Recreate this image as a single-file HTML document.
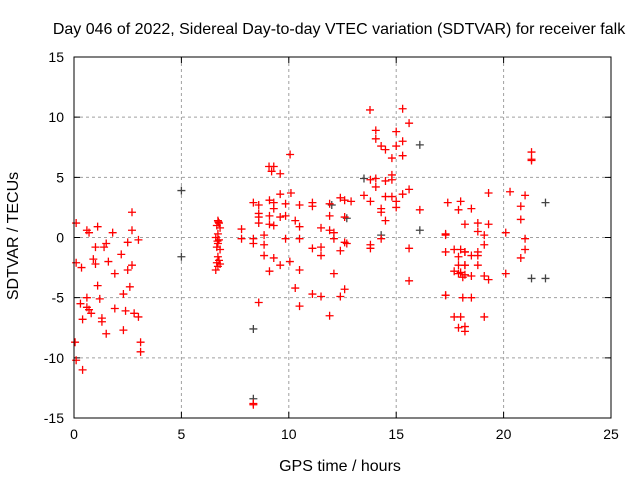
<!DOCTYPE html>
<html><head><meta charset="utf-8"><style>
body{margin:0;background:#fff}
svg text{font-family:"Liberation Sans",sans-serif;font-size:14px;fill:#000}
</style></head><body>
<svg id="chart" width="640" height="480" xmlns="http://www.w3.org/2000/svg">
<rect width="640" height="480" fill="#fff"/>
<text x="339" y="34" text-anchor="middle" style="font-size:16px">Day 046 of 2022, Sidereal Day-to-day VTEC variation (SDTVAR) for receiver falk</text>
<text x="340" y="471" text-anchor="middle" style="font-size:16px">GPS time / hours</text>
<text x="18" y="236" text-anchor="middle" style="font-size:16px" transform="rotate(-90 18 236)">SDTVAR / TECUs</text>
<g id="grid"></g><g id="ticks"></g><g id="marks"></g>
<rect x="74" y="57" width="537" height="361" fill="none" stroke="#000" stroke-width="1"/>
</svg>
<script>
const xTicks=[0,5,10,15,20,25];
const yTicks=[-15,-10,-5,0,5,10,15];
const redX=[0.1,0.1,0.05,0.1,0.4,0.35,0.3,0.4,0.6,0.7,0.6,0.6,0.7,0.8,0.9,1.0,1.1,1.0,1.1,1.2,1.3,1.3,1.4,1.5,1.6,1.5,1.8,1.9,1.9,2.2,2.3,2.3,2.5,2.5,2.4,2.6,2.7,2.7,2.7,2.8,3.0,3.0,3.1,3.1,
6.7,6.75,6.65,6.8,6.7,6.6,6.75,6.7,6.65,6.8,6.7,6.75,6.65,6.7,6.6,6.8,6.72,6.68,
7.8,7.8,10.06,9.08,9.3,9.2,9.6,8.35,8.6,8.6,8.6,9.1,9.3,9.3,9.6,9.85,10.1,9.85,10.5,11.1,11.1,11.9,11.9,12.4,12.6,12.6,9.1,9.6,10.3,10.5,11.5,11.9,12.1,12.1,12.6,12.4,8.6,9.1,9.3,8.85,8.35,8.35,8.85,9.85,10.5,11.1,11.5,11.5,8.85,9.3,9.6,10.05,9.1,10.5,12.1,10.3,11.1,11.5,12.4,12.6,8.6,10.5,11.9,8.35,8.35,12.7,12.9,
13.78,15.3,15.6,14.05,14.05,15.0,15.3,14.3,14.5,15.0,14.8,15.3,13.8,14.05,14.05,14.5,14.8,14.8,15.3,15.6,13.5,13.8,14.5,14.8,15.0,15.0,14.3,14.3,16.1,14.5,14.3,13.8,13.8,15.6,15.6,
18.0,18.5,18.8,18.8,17.3,17.3,18.0,18.2,18.5,18.8,18.8,18.2,18.8,18.0,18.2,18.5,17.3,18.5,18.0,18.2,18.2,
21.3,21.3,21.3,20.3,21.0,20.8,20.8,19.3,17.4,17.9,18.2,19.3,17.3,19.1,20.1,21.0,19.1,21.0,20.8,17.7,17.9,18.2,17.9,18.2,17.7,17.9,18.1,19.1,19.3,20.1,17.3,18.1,17.7,17.9,19.1];
const redY=[1.2,-2.1,-8.7,-10.2,-11.0,-2.5,-5.5,-6.8,0.6,0.4,-5.0,-5.8,-6.0,-6.3,-1.8,-0.8,0.9,-2.2,-4.0,-5.1,-6.7,-7.0,-0.8,-0.5,-2.0,-8.0,0.4,-3.0,-5.9,-1.4,-4.7,-7.7,-0.4,-2.7,-6.1,-4.1,2.1,0.6,-2.3,-6.3,-0.2,-6.6,-8.7,-9.5,
1.4,1.2,1.0,0.8,0.3,0,-0.2,-0.5,-0.8,-1.0,-1.6,-1.9,-2.1,-2.4,-2.7,-2.2,1.3,-0.3,
0.7,-0.1,6.9,5.9,5.9,5.5,5.3,2.9,2.7,2.0,1.7,3.1,2.9,2.4,3.6,2.8,3.7,1.8,2.7,2.9,2.6,2.8,1.8,3.3,3.1,1.7,1.8,1.7,1.4,0.9,0.8,0.6,0.4,-0.1,-0.4,-1.1,1.2,1.1,1.0,0.2,-0.1,-0.5,-0.6,-0.1,-0.1,-0.9,-0.8,-1.5,-1.5,-1.7,-2.3,-2.0,-2.8,-2.7,-3.0,-4.2,-4.7,-4.9,-4.9,-4.3,-5.4,-5.7,-6.5,-13.8,-13.9,-0.5,3.0,
10.6,10.7,9.5,8.9,8.2,8.8,8.0,7.6,7.3,7.6,6.6,6.8,4.8,4.9,4.2,4.7,5.2,4.8,3.6,4.0,3.5,3.0,3.4,3.4,3.0,2.5,2.4,2.1,2.3,1.4,-0.1,-0.6,-0.9,-0.9,-3.6,
3.0,2.4,1.2,0.5,0.2,-1.2,-1.0,-1.2,-1.5,-1.2,-1.5,-2.3,-2.3,-2.9,-3.1,-3.2,-4.8,-5.0,-6.6,-7.4,-7.8,
7.1,6.4,6.5,3.8,3.5,2.6,1.5,3.7,2.9,2.3,1.1,1.1,0.3,0.2,0.4,-0.1,-0.6,-1.0,-1.7,-1.0,-1.6,-1.2,-2.3,-2.3,-2.8,-3.0,-3.3,-3.2,-3.5,-3.0,-4.8,-5.0,-6.6,-7.5,-6.6];
const darkX=[5.0,5.0,8.35,8.35,12.0,13.5,14.3,16.1,16.1,21.3,21.95,21.95,12.7];
const darkY=[3.9,-1.6,-7.6,-13.4,2.7,4.9,0.2,7.7,0.6,-3.4,-3.4,2.9,1.6];
const L=74,R=611,T=57,B=418;
const sx=v=>L+(v-0)/25*(R-L);
const sy=v=>B-(v+15)/30*(B-T);
const NS="http://www.w3.org/2000/svg";
const grid=document.getElementById('grid'),ticks=document.getElementById('ticks'),marks=document.getElementById('marks');
function mk(tag,attrs,parent){const e=document.createElementNS(NS,tag);for(const k in attrs)e.setAttribute(k,attrs[k]);parent.appendChild(e);return e;}
xTicks.forEach(t=>{const x=sx(t);
 if(t>0&&t<25){const g=mk('line',{x1:x,x2:x,y1:T,y2:B,stroke:'#a0a0a0','stroke-dasharray':'3,3'},grid);
 
 }
 const tk=mk('path',{d:`M${x},${B}v-6M${x},${T}v6`,stroke:'#000'},ticks);
 
 
 const lb=mk('text',{x:x,y:B+21,'text-anchor':'middle'},ticks);lb.textContent=t;
 
 
});
yTicks.forEach(t=>{const y=sy(t);
 if(t>-15&&t<15){const g=mk('line',{x1:L,x2:R,y1:y,y2:y,stroke:'#a0a0a0','stroke-dasharray':'3,3'},grid);
 
 }
 const tk=mk('path',{d:`M${L},${y}h6M${R},${y}h-6`,stroke:'#000'},ticks);
 
 
 const lb=mk('text',{x:L-10,y:y+5,'text-anchor':'end'},ticks);lb.textContent=t;
 
 
});
function plus(x,y,c){const p=mk('path',{d:`M${x-4},${y}h8M${x},${y-4}v8`,stroke:c,'stroke-width':1.3},marks);return p;}
darkX.forEach((v,i)=>{const p=plus(sx(v),sy(darkY[i]),'#444');
 
 });
redX.forEach((v,i)=>{const p=plus(sx(v),sy(redY[i]),'#ff0000');
 
 });
</script>
</body></html>
